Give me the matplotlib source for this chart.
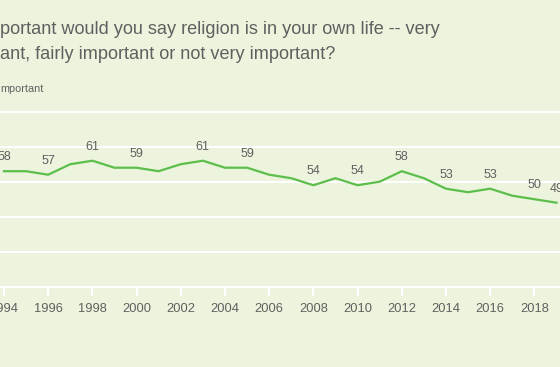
import matplotlib
matplotlib.use("Agg")
import matplotlib.pyplot as plt

# % very important, by year
years = list(range(1994, 2020))
very_important = [58, 58, 57, 60, 61, 59, 59, 58, 60, 61, 59, 59, 57,
                  56, 54, 56, 54, 55, 58, 56, 53, 52, 53, 51, 50, 49]
labeled_years = [1994, 1996, 1998, 2000, 2003, 2005, 2008, 2010, 2012,
                 2014, 2016, 2018, 2019]
tick_years = list(range(1994, 2020, 2))

title_lines = ["portant would you say religion is in your own life -- very",
               "ant, fairly important or not very important?"]
series_name = "mportant"

bg = "#ECF4DD"
green = "#5CBE4B"
gray = "#606060"

plt.rcParams['font.family'] = ['Liberation Sans', 'DejaVu Sans']

fig = plt.figure(figsize=(5.6, 3.67), dpi=100)
fig.patch.set_facecolor(bg)
ax = fig.add_axes([0, 0.2188, 1, 0.4768])
ax.set_facecolor(bg)

ax.plot(years, very_important, color=green, lw=1.6, zorder=3, clip_on=False)
for y, v in zip(years, very_important):
    if y in labeled_years:
        ax.annotate(str(v), (y, v), xytext=(0, 10), textcoords="offset points",
                    ha="center", va="center", fontsize=9, color=gray,
                    annotation_clip=False)

ax.set_xlim(1993.82, 2019.16)
ax.set_ylim(25, 75)
ax.set_yticks([25, 35, 45, 55, 65, 75])
ax.set_xticks(tick_years)
ax.set_xticklabels([str(t) for t in tick_years])
ax.grid(axis="y", color="white", lw=1.4, zorder=1)
for gl in ax.get_ygridlines():
    gl.set_clip_on(False)
ax.tick_params(axis="y", left=False, labelleft=False)
ax.tick_params(axis="x", color="white", width=1.5, length=6.7, pad=5,
               labelsize=9.3, labelcolor=gray)
for s in ax.spines.values():
    s.set_visible(False)

fig.text(0, 1 - 34 / 367, title_lines[0], fontsize=13.1, color=gray,
         ha="left", va="baseline")
fig.text(0, 1 - 58.7 / 367, title_lines[1], fontsize=13.1, color=gray,
         ha="left", va="baseline")
fig.text(0, 1 - 92 / 367, series_name, fontsize=7.8, color=gray,
         ha="left", va="baseline")

fig.savefig("out.png", dpi=100, facecolor=bg)
